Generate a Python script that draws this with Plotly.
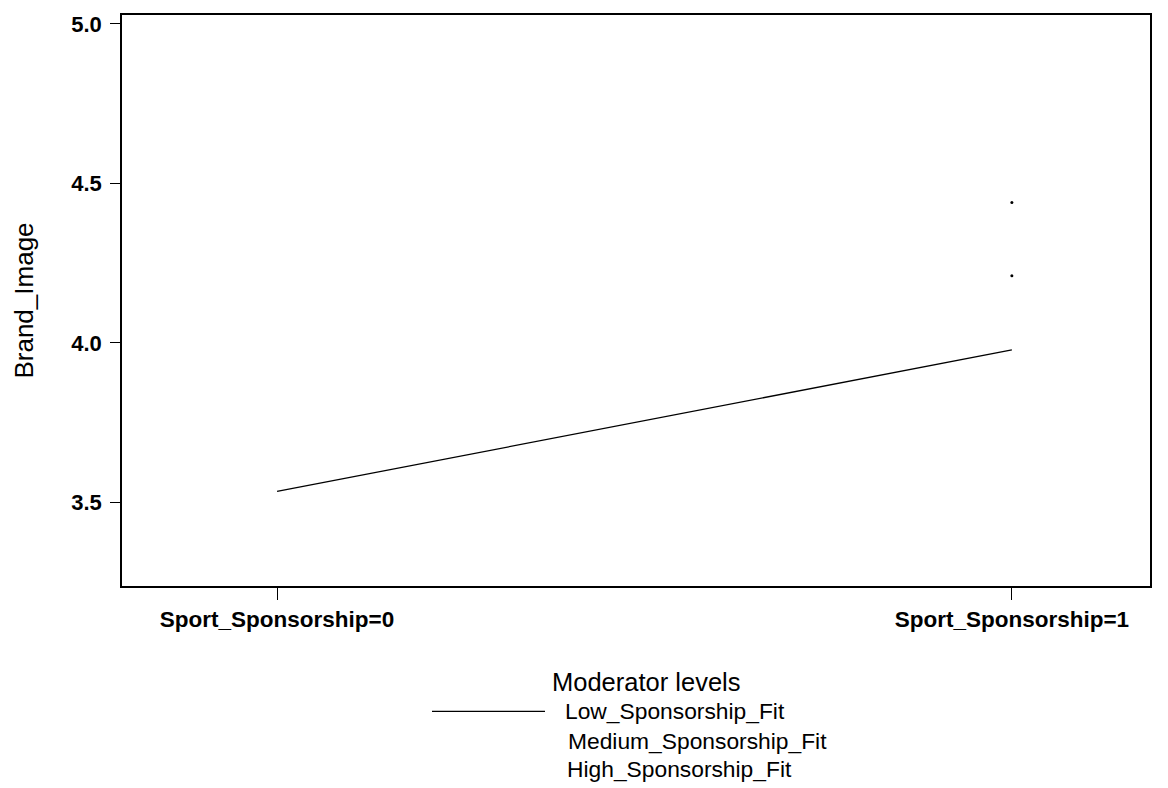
import plotly.graph_objects as go

# ---- data ----
x_levels = [0, 1]
x_tick_labels = ["Sport_Sponsorship=0", "Sport_Sponsorship=1"]
series_names = ["Low_Sponsorship_Fit", "Medium_Sponsorship_Fit", "High_Sponsorship_Fit"]
low_fit = [3.534, 3.978]
medium_fit = [None, 4.21]
high_fit = [None, 4.44]
y_ticks = [3.5, 4.0, 4.5, 5.0]
y_tick_labels = ["3.5", "4.0", "4.5", "5.0"]

OFF = 8  # page body margin
W, H = 1168 - OFF, 788 - OFF
L, R, T, B = 122 - OFF, 18, 12 - OFF, 202
PW, PH = W - L - R, H - T - B

def px(xp):
    return (xp - OFF - L) / PW

def py(yp):
    return (H - B - (yp - OFF)) / PH

fig = go.Figure()
fig.add_trace(go.Scatter(x=x_levels, y=low_fit, mode="lines", name=series_names[0],
                         line=dict(color="black", width=1.3), showlegend=False))
fig.add_trace(go.Scatter(x=x_levels, y=medium_fit, mode="lines+markers", name=series_names[1],
                         line=dict(color="white", width=1), marker=dict(color="black", size=3),
                         showlegend=False))
fig.add_trace(go.Scatter(x=x_levels, y=high_fit, mode="lines+markers", name=series_names[2],
                         line=dict(color="white", width=1), marker=dict(color="black", size=3),
                         showlegend=False))

font_family = "Liberation Sans, Arial, sans-serif"

fig.update_layout(
    width=W, height=H,
    margin=dict(l=L, r=R, t=T, b=B),
    paper_bgcolor="white", plot_bgcolor="white",
    font=dict(family=font_family, color="black"),
    showlegend=False,
)
fig.update_xaxes(
    range=[-0.211, 1.188], tickvals=x_levels, ticktext=x_tick_labels,
    ticks="outside", ticklen=12, tickcolor="black", tickwidth=1,
    tickfont=dict(family=font_family, size=22.5, color="black", weight="bold"),
    showline=True, linecolor="black", linewidth=1.5, mirror=True,
    showgrid=False, zeroline=False,
)
fig.update_yaxes(
    range=[3.2375, 5.028], tickvals=y_ticks, ticktext=y_tick_labels,
    ticks="outside", ticklen=10, tickcolor="black", tickwidth=1,
    tickfont=dict(family=font_family, size=22, color="black", weight="bold"),
    ticklabelstandoff=4,
    showline=True, linecolor="black", linewidth=1.5, mirror=True,
    showgrid=False, zeroline=False,
    title=dict(text="Brand_Image", font=dict(family=font_family, size=26, color="black"), standoff=30),
)

# ---- custom legend ----
fig.add_annotation(text="Moderator levels", xref="paper", yref="paper",
                   x=px(646), y=py(683), showarrow=False, xanchor="center", yanchor="middle",
                   font=dict(family=font_family, size=25.5, color="black"))
fig.add_shape(type="line", xref="paper", yref="paper",
              x0=px(432), x1=px(545), y0=py(712), y1=py(712),
              line=dict(color="black", width=1.3))
legend_rows = [(563, 712), (566, 742), (565, 770)]
for name, (lx, ly) in zip(series_names, legend_rows):
    fig.add_annotation(text=name, xref="paper", yref="paper",
                       x=px(lx), y=py(ly), showarrow=False, xanchor="left", yanchor="middle",
                       font=dict(family=font_family, size=22.8, color="black"))

fig.write_html("out.html")
